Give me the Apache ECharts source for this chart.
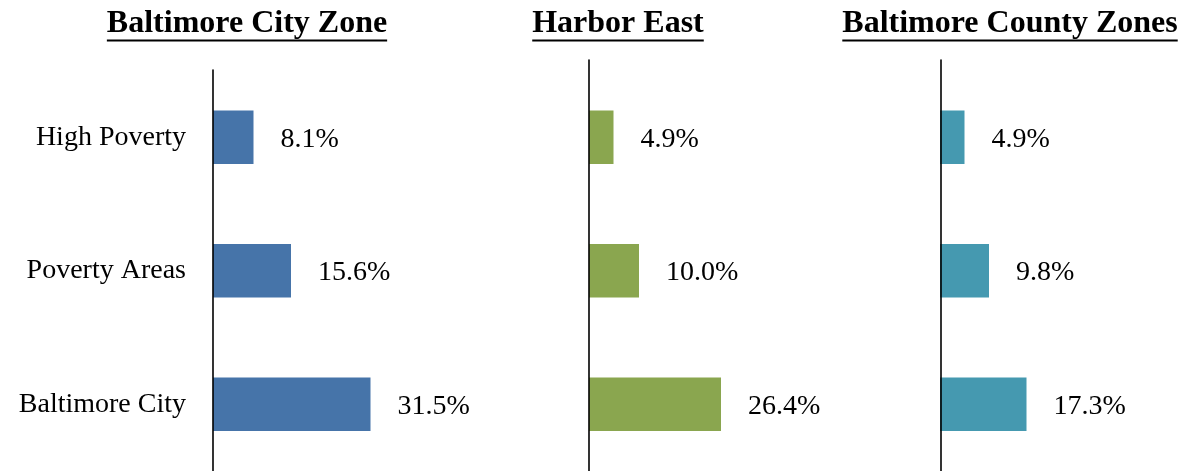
<!DOCTYPE html>
<html>
<head>
<meta charset="utf-8">
<script src="https://cdn.jsdelivr.net/npm/echarts@6/dist/echarts.min.js"></script>
<style>
  html, body { margin: 0; padding: 0; background: #fff; }
  #chart { width: 1184px; height: 471px; }
</style>
</head>
<body>
<div id="chart"></div>
<script>
// data
const categories = ['High Poverty', 'Poverty Areas', 'Baltimore City'];
const panelTitles = ['Baltimore City Zone', 'Harbor East', 'Baltimore County Zones'];
const cityZoneValues = [8.1, 15.6, 31.5];
const harborEastValues = [4.9, 10.0, 26.4];
const countyZoneValues = [4.9, 9.8, 17.3];

const FONT = '"Liberation Serif", "Times New Roman", serif';

// layout per panel
const panels = [
  { values: cityZoneValues, color: '#4674A9', left: 213, lineLeft: 213, lineTop: 70, titleX: 247, showCats: true },
  { values: harborEastValues, color: '#8AA64F', left: 589, lineLeft: 589, lineTop: 60, titleX: 618, showCats: false },
  { values: countyZoneValues, color: '#4599B0', left: 940, lineLeft: 941, lineTop: 60, titleX: 1010, showCats: false }
];

const chart = echarts.init(document.getElementById('chart'));

// measure title widths for the underline
const ctx = document.createElement('canvas').getContext('2d');
const titleFont = 'bold 32px ' + FONT;
ctx.font = titleFont;

const grid = [];
const xAxis = [];
const yAxis = [];
const series = [];
const graphic = [];

panels.forEach((p, i) => {
  grid.push({ left: p.left, top: 70.5, width: 200, height: 402 });
  xAxis.push({ gridIndex: i, type: 'value', min: 0, max: 40, show: false });
  yAxis.push({
    gridIndex: i,
    type: 'category',
    inverse: true,
    data: categories,
    axisLine: { show: false },
    axisTick: { show: false },
    splitLine: { show: false },
    axisLabel: {
      show: p.showCats,
      color: '#000',
      fontSize: 28,
      fontFamily: FONT,
      margin: 27,
      padding: [4, 0, 0, 0]
    }
  });
  series.push({
    type: 'bar',
    xAxisIndex: i,
    yAxisIndex: i,
    data: p.values,
    barWidth: '40%',
    itemStyle: { color: p.color },
    label: {
      show: true,
      position: 'right',
      distance: 27,
      offset: [0, 2],
      color: '#000',
      fontSize: 28,
      fontFamily: FONT,
      formatter: (v) => v.value.toFixed(1) + '%'
    }
  });

  const w = ctx.measureText(panelTitles[i]).width;
  graphic.push({
    type: 'text',
    x: p.titleX,
    y: 23.5,
    style: {
      text: panelTitles[i],
      font: titleFont,
      fill: '#000',
      align: 'center',
      verticalAlign: 'middle'
    }
  });
  graphic.push({
    type: 'line',
    shape: { x1: p.titleX - w / 2, y1: 40.5, x2: p.titleX + w / 2, y2: 40.5 },
    style: { stroke: '#000', lineWidth: 2 }
  });
});

// vertical axis lines (separate grids so they can start higher than the bars)
panels.forEach((p, i) => {
  const gi = panels.length + i;
  grid.push({ left: p.lineLeft, top: p.lineTop, width: 200, height: 480 - p.lineTop });
  xAxis.push({ gridIndex: gi, type: 'value', show: false });
  yAxis.push({
    gridIndex: gi,
    type: 'value',
    z: 5,
    axisLine: { show: true, lineStyle: { color: '#000', width: 1.6 } },
    axisTick: { show: false },
    axisLabel: { show: false },
    splitLine: { show: false }
  });
});

chart.setOption({
  animation: false,
  backgroundColor: '#fff',
  grid: grid,
  xAxis: xAxis,
  yAxis: yAxis,
  series: series,
  graphic: graphic
});
</script>
</body>
</html>
